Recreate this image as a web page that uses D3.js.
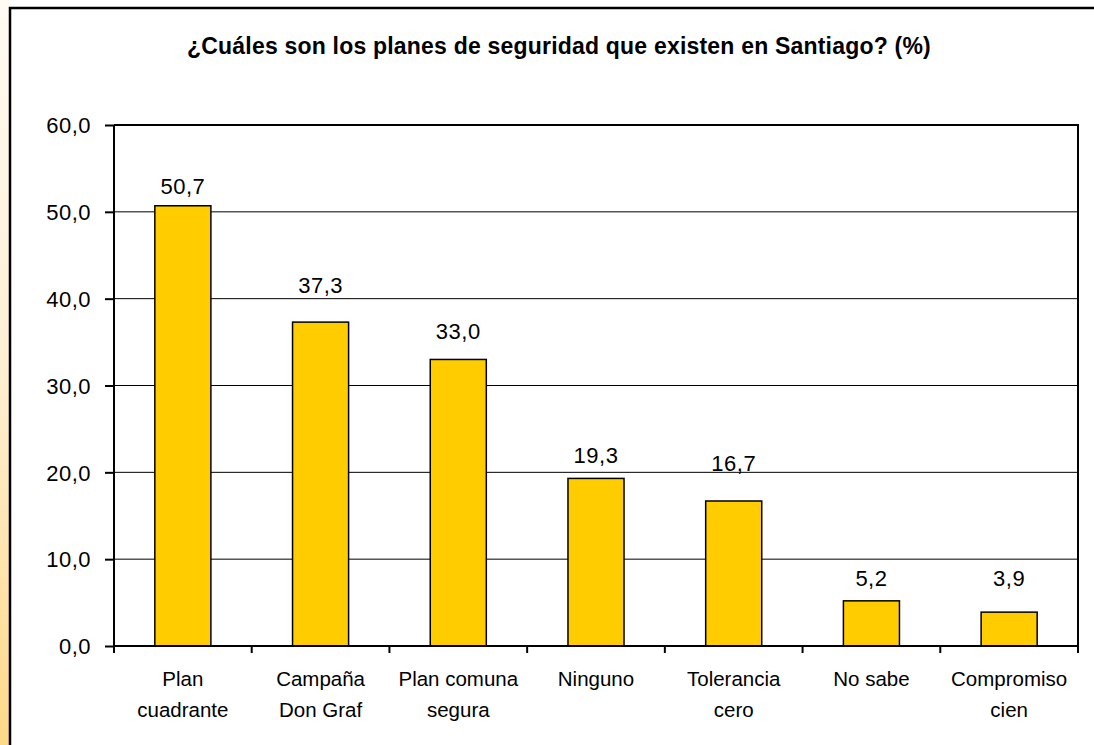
<!DOCTYPE html>
<html>
<head>
<meta charset="utf-8">
<script src="https://cdn.jsdelivr.net/npm/d3@7"></script>
<style>
  html, body { margin: 0; padding: 0; background: #fff; }
  svg { display: block; }
  text { font-family: "Liberation Sans", Arial, sans-serif; fill: #000; }
</style>
</head>
<body>
<svg id="chart" width="1094" height="745"></svg>
<script>
// ---- data ----
const title = "¿Cuáles son los planes de seguridad que existen en Santiago? (%)";
const categories = ["Plan\ncuadrante", "Campaña\nDon Graf", "Plan comuna\nsegura", "Ninguno", "Tolerancia\ncero", "No sabe", "Compromiso\ncien"];
const values = [50.7, 37.3, 33.0, 19.3, 16.7, 5.2, 3.9];
const yTicks = [0, 10, 20, 30, 40, 50, 60];

// ---- layout ----
const W = 1094, H = 745;
const plot = { left: 114, top: 125, right: 1078, bottom: 646 };
// gap (px) between bar top and value-label baseline, as placed in the original
const labelLift = [12, 29, 20, 15, 30, 15, 26];
const fmt = v => v.toFixed(1).replace(".", ",");

const svg = d3.select("#chart");
const defs = svg.append("defs");
const grad = defs.append("linearGradient").attr("id", "stripe")
  .attr("x1", 0).attr("y1", 0).attr("x2", 0).attr("y2", 1);
grad.append("stop").attr("offset", "0%").attr("stop-color", "#fffaf3");
grad.append("stop").attr("offset", "50%").attr("stop-color", "#feefd2");
grad.append("stop").attr("offset", "100%").attr("stop-color", "#fdd888");

// left stripe
svg.append("rect").attr("x", 0).attr("y", 0).attr("width", 10).attr("height", H)
  .attr("fill", "url(#stripe)");
// outer chart frame (extends beyond right/bottom edge)
svg.append("rect").attr("x", 10).attr("y", 8).attr("width", 1200).attr("height", 900)
  .attr("fill", "#fff").attr("stroke", "#000").attr("stroke-width", 2.5);

// title
svg.append("text").attr("x", 559).attr("y", 54).attr("text-anchor", "middle")
  .style("font-size", "23px").style("font-weight", "bold").style("letter-spacing", "0.2px")
  .text(title);

// scales
const x = d3.scaleBand().domain(categories).range([plot.left, plot.right]).padding(0);
const y = d3.scaleLinear().domain([0, 60]).range([plot.bottom, plot.top]);

// gridlines
svg.append("g").selectAll("line").data(yTicks.filter(t => t > 0 && t < 60)).join("line")
  .attr("x1", plot.left).attr("x2", plot.right)
  .attr("y1", d => y(d)).attr("y2", d => y(d))
  .attr("stroke", "#000").attr("stroke-width", 1);

// plot frame top & right
svg.append("path")
  .attr("d", `M${plot.left},${y(60)}H${plot.right}V${plot.bottom}`)
  .attr("fill", "none").attr("stroke", "#000").attr("stroke-width", 2);

// bars
const barW = x.bandwidth() * 0.407;
svg.append("g").selectAll("rect").data(values).join("rect")
  .attr("x", (d, i) => x(categories[i]) + (x.bandwidth() - barW) / 2)
  .attr("y", d => y(d))
  .attr("width", barW)
  .attr("height", d => y(0) - y(d))
  .attr("fill", "#ffcc00").attr("stroke", "#000").attr("stroke-width", 1.5);

// value labels
svg.append("g").selectAll("text").data(values).join("text")
  .attr("x", (d, i) => x(categories[i]) + x.bandwidth() / 2)
  .attr("y", (d, i) => y(d) - labelLift[i])
  .attr("text-anchor", "middle").style("font-size", "22px").style("letter-spacing", "0.5px")
  .text(d => fmt(d));

// y axis
const yAxis = svg.append("g").attr("transform", `translate(${plot.left},0)`)
  .call(d3.axisLeft(y).tickValues(yTicks).tickFormat(fmt).tickSize(9).tickPadding(14));
yAxis.select(".domain").attr("stroke", "#000").attr("stroke-width", 2)
  .attr("d", `M0,${plot.top}V${plot.bottom + 7}`);
yAxis.selectAll(".tick line").attr("stroke", "#000").attr("stroke-width", 2);
yAxis.selectAll(".tick text").style("font-size", "22px").style("letter-spacing", "0.5px")
  .attr("fill", "#000").attr("dy", "0.35em");

// x axis
const xAxis = svg.append("g").attr("transform", `translate(0,${plot.bottom})`)
  .call(d3.axisBottom(x).tickSize(0).tickPadding(0));
xAxis.select(".domain").attr("stroke", "#000").attr("stroke-width", 2)
  .attr("d", `M${plot.left},0H${plot.right}`);
xAxis.selectAll(".tick text").each(function(d) {
  const t = d3.select(this);
  t.text(null).attr("y", null).attr("dy", null).style("font-size", "20.5px").attr("fill", "#000");
  d.split("\n").forEach((line, i) => {
    t.append("tspan").attr("x", 0).attr("y", 40 + i * 31).text(line);
  });
});
// boundary ticks between categories
const bounds = categories.map(c => x(c)).concat([plot.right]);
xAxis.append("g").selectAll("line").data(bounds).join("line")
  .attr("x1", d => d).attr("x2", d => d).attr("y1", 0).attr("y2", 7)
  .attr("stroke", "#000").attr("stroke-width", 2);
</script>
</body>
</html>
